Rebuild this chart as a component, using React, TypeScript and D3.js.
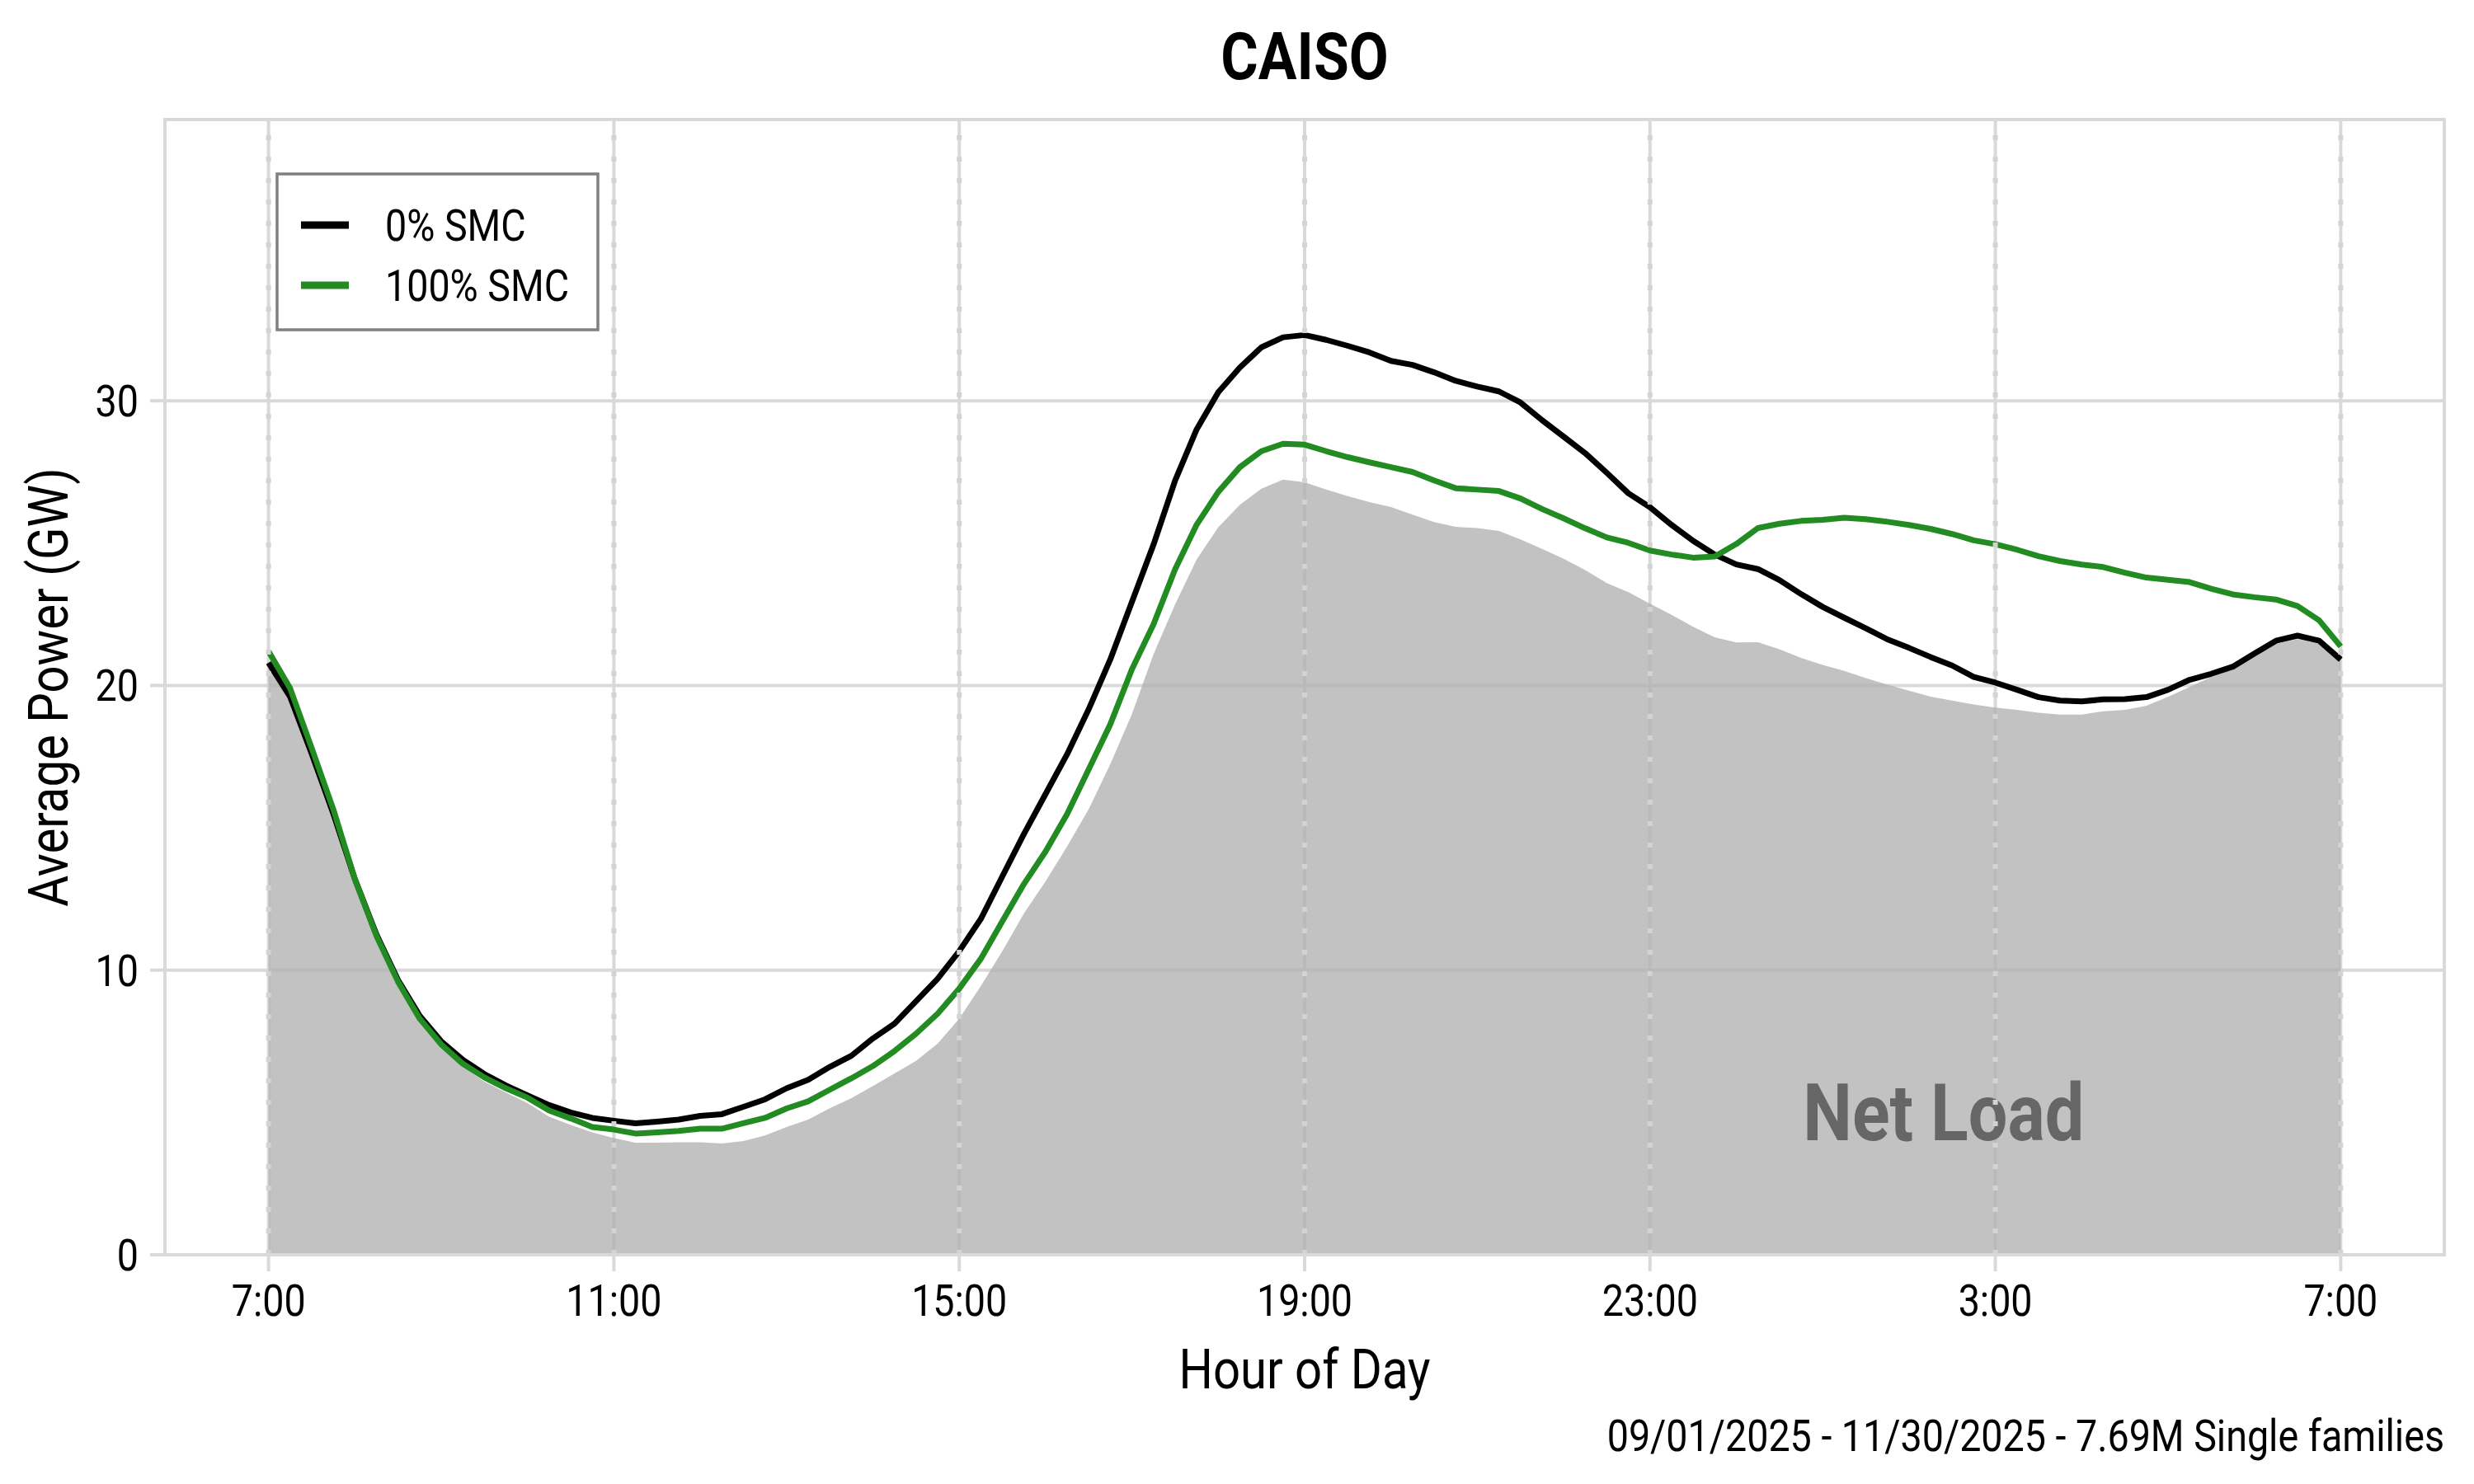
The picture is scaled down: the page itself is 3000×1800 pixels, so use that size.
import React from "react";
import * as d3 from "d3";

// Average power by time of day, 15-minute readings starting at 7:00
const TITLE = "CAISO";
const CAPTION = "09/01/2025 - 11/30/2025 - 7.69M Single families";
const X_LABEL = "Hour of Day";
const Y_LABEL = "Average Power (GW)";
const AREA_LABEL = "Net Load";

const STEP_HOURS = 0.25;
const X_TICK_HOURS = [0, 4, 8, 12, 16, 20, 24];
const X_TICK_LABELS = ["7:00", "11:00", "15:00", "19:00", "23:00", "3:00", "7:00"];
const Y_TICKS = [0, 10, 20, 30];

const netLoad = [
  20.7, 19.5, 17.6, 15.5, 13.1, 11.1, 9.5, 8.2, 7.3, 6.6,
  6.08, 5.7, 5.33, 4.85, 4.56, 4.3, 4.1, 3.94, 3.94, 3.95,
  3.95, 3.91, 4.0, 4.19, 4.49, 4.75, 5.15, 5.5, 5.93, 6.37,
  6.81, 7.42, 8.3, 9.44, 10.67, 12.0, 13.12, 14.35, 15.66, 17.24,
  19.0, 21.1, 22.85, 24.43, 25.56, 26.35, 26.91, 27.23, 27.14, 26.88,
  26.65, 26.44, 26.27, 26.0, 25.74, 25.57, 25.53, 25.43, 25.13, 24.8,
  24.45, 24.05, 23.6, 23.28, 22.87, 22.48, 22.06, 21.69, 21.51, 21.52,
  21.27, 20.97, 20.72, 20.51, 20.26, 20.03, 19.82, 19.61, 19.47, 19.33,
  19.22, 19.14, 19.04, 18.98, 18.98, 19.09, 19.14, 19.29, 19.6, 19.95,
  20.3, 20.56, 21.02, 21.47, 21.63, 21.47, 20.86,
];

const smc0 = [
  20.8, 19.6, 17.6, 15.5, 13.2, 11.25, 9.65, 8.4, 7.5, 6.85,
  6.35, 5.95, 5.6, 5.26, 5.0, 4.81, 4.71, 4.62, 4.68, 4.75,
  4.88, 4.94, 5.2, 5.46, 5.85, 6.15, 6.6, 6.99, 7.6, 8.12,
  8.91, 9.7, 10.67, 11.8, 13.3, 14.79, 16.19, 17.59, 19.17, 20.92,
  22.94, 24.95, 27.2, 29.0, 30.3, 31.17, 31.88, 32.23, 32.31, 32.14,
  31.93, 31.7, 31.4, 31.26, 31.0, 30.7, 30.5, 30.33, 29.94, 29.32,
  28.74, 28.16, 27.47, 26.75, 26.26, 25.64, 25.08, 24.6, 24.25, 24.09,
  23.7, 23.21, 22.76, 22.38, 22.01, 21.62, 21.32, 21.0, 20.7, 20.3,
  20.1, 19.85, 19.59, 19.47, 19.44, 19.51, 19.52, 19.59, 19.85, 20.2,
  20.41, 20.66, 21.12, 21.57, 21.75, 21.57, 20.91,
];

const smc100 = [
  21.2, 19.9, 17.8, 15.65, 13.2, 11.2, 9.59, 8.3, 7.39, 6.71,
  6.23, 5.85, 5.52, 5.07, 4.79, 4.49, 4.4, 4.26, 4.3, 4.35,
  4.43, 4.43, 4.62, 4.81, 5.14, 5.39, 5.8, 6.2, 6.63, 7.16,
  7.77, 8.47, 9.35, 10.4, 11.72, 13.03, 14.17, 15.49, 17.06, 18.64,
  20.57, 22.15, 24.08, 25.65, 26.8, 27.67, 28.23, 28.49, 28.46, 28.23,
  28.02, 27.84, 27.67, 27.5, 27.2, 26.93, 26.88, 26.83, 26.57, 26.2,
  25.87, 25.52, 25.2, 25.01, 24.74, 24.6, 24.49, 24.53, 24.97, 25.53,
  25.68, 25.78, 25.82, 25.89, 25.84, 25.75, 25.64, 25.5, 25.32, 25.1,
  24.96, 24.77, 24.54, 24.37, 24.25, 24.16, 23.96, 23.79, 23.71, 23.63,
  23.4, 23.2, 23.1, 23.02, 22.79, 22.29, 21.37,
];

const SERIES = [
  { label: "0% SMC", color: "#000000", values: smc0 },
  { label: "100% SMC", color: "#228B22", values: smc100 },
];

const W = 3000;
const H = 1800;
const panel = { left: 200, right: 2964, top: 145, bottom: 1522 };
const FONT = "Roboto, 'Noto Sans', sans-serif";
const SQUEEZE = 0.88; // narrow face look
const GRID = "#D9D9D9";

function CText({ x, y, size, anchor = "start", weight = 400, fill = "#000", rotate = 0, children }: any) {
  return (
    <text
      transform={`translate(${x},${y}) rotate(${rotate}) scale(${SQUEEZE},1)`}
      fontSize={size}
      fontFamily={FONT}
      fontWeight={weight}
      textAnchor={anchor}
      fill={fill}
    >
      {children}
    </text>
  );
}

export default function App() {
  const x = d3.scaleLinear().domain([-1.2, 25.2]).range([panel.left, panel.right]);
  const y = d3.scaleLinear().domain([0, 39.88]).range([panel.bottom, panel.top]);

  const area = d3
    .area<number>()
    .x((_, i) => x(i * STEP_HOURS))
    .y0(y(0))
    .y1((d) => y(d));

  const line = d3
    .line<number>()
    .x((_, i) => x(i * STEP_HOURS))
    .y((d) => y(d));

  const midX = (panel.left + panel.right) / 2;
  const midY = (panel.top + panel.bottom) / 2;

  return (
    <div style={{ position: "absolute", left: 0, top: 0 }}>
      <svg width={W} height={H} viewBox={`0 0 ${W} ${H}`} style={{ display: "block", background: "#fff" }}>
        {/* grid */}
        {Y_TICKS.filter((t) => t > 0).map((t) => (
          <line key={`gy${t}`} x1={panel.left} x2={panel.right} y1={y(t)} y2={y(t)} stroke={GRID} strokeWidth={4} />
        ))}
        {X_TICK_HOURS.map((h, i) => (
          <line key={`gx${i}`} x1={x(h)} x2={x(h)} y1={panel.top} y2={panel.bottom} stroke={GRID} strokeWidth={4} />
        ))}

        {/* net load area */}
        <path d={area(netLoad) || ""} fill="#B2B2B2" fillOpacity={0.79} />

        <CText x={x(19.4)} y={y(5) + 34} size={96} anchor="middle" weight={700} fill="#666666">
          {AREA_LABEL}
        </CText>

        {/* series lines */}
        {SERIES.map((s) => (
          <path
            key={s.label}
            d={line(s.values) || ""}
            fill="none"
            stroke={s.color}
            strokeWidth={7}
            strokeLinejoin="round"
          />
        ))}

        {/* dashed hour markers on top */}
        {X_TICK_HOURS.map((h, i) => (
          <line
            key={`vl${i}`}
            x1={x(h)}
            x2={x(h)}
            y1={panel.bottom}
            y2={panel.top}
            stroke="#D3D3D3"
            strokeWidth={6}
            strokeDasharray="6 20"
          />
        ))}

        {/* panel border */}
        <rect
          x={panel.left}
          y={panel.top}
          width={panel.right - panel.left}
          height={panel.bottom - panel.top}
          fill="none"
          stroke={GRID}
          strokeWidth={4}
        />

        {/* y axis */}
        {Y_TICKS.map((t) => (
          <g key={`yt${t}`}>
            <line x1={panel.left - 18} x2={panel.left} y1={y(t)} y2={y(t)} stroke={GRID} strokeWidth={4} />
            <CText x={panel.left - 32} y={y(t) + 19} size={53} anchor="end">
              {t}
            </CText>
          </g>
        ))}

        {/* x axis */}
        {X_TICK_HOURS.map((h, i) => (
          <g key={`xt${i}`}>
            <line x1={x(h)} x2={x(h)} y1={panel.bottom} y2={panel.bottom + 20} stroke={GRID} strokeWidth={4} />
            <CText x={x(h)} y={1596} size={53} anchor="middle">
              {X_TICK_LABELS[i]}
            </CText>
          </g>
        ))}

        {/* titles */}
        <CText x={midX} y={96} size={79} anchor="middle" weight={700}>
          {TITLE}
        </CText>
        <CText x={midX} y={1684} size={66} anchor="middle">
          {X_LABEL}
        </CText>
        <CText x={82} y={midY} size={66} anchor="middle" rotate={-90}>
          {Y_LABEL}
        </CText>
        <CText x={panel.right} y={1760} size={53} anchor="end">
          {CAPTION}
        </CText>

        {/* legend */}
        <g>
          <rect x={336} y={211} width={389} height={189} fill="#fff" stroke="#808080" strokeWidth={3.5} />
          {SERIES.map((s, i) => (
            <g key={`lg${i}`}>
              <line x1={365} x2={423} y1={273 + i * 73} y2={273 + i * 73} stroke={s.color} strokeWidth={9} />
              <CText x={467} y={292 + i * 73} size={53}>
                {s.label}
              </CText>
            </g>
          ))}
        </g>
      </svg>
    </div>
  );
}
